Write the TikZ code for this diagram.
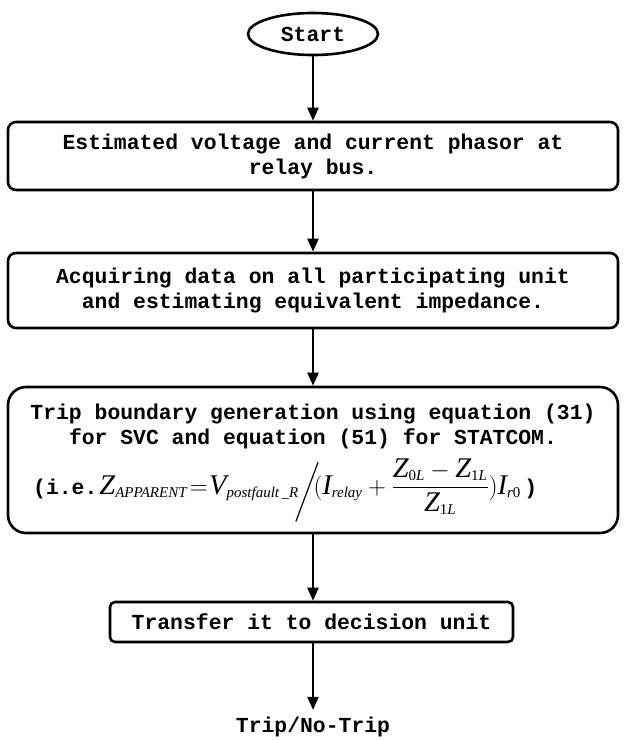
\documentclass[tikz,border=0pt]{standalone}
\usepackage{fontspec}
\usepackage{amsmath}
\newfontfamily\cour{Liberation Mono}
\newfontfamily\tms{Liberation Serif}
\usetikzlibrary{arrows.meta,shapes.geometric}
\newcommand{\ti}[1]{\text{\normalfont\tms\itshape #1}}
\newcommand{\sbi}[1]{\hbox{\normalfont\fontsize{15}{15}\selectfont\tms\itshape #1}}
\newcommand{\sbu}[1]{\hbox{\normalfont\fontsize{15}{15}\selectfont\tms #1}}
\newcommand{\bigslash}{\raisebox{-5pt}{$\displaystyle\left/\vphantom{\frac{Z}{Z}}\right.$}}
\begin{document}
\begin{tikzpicture}[x=1pt,y=-1pt,
  every node/.style={font=\cour\bfseries\fontsize{21.4}{25}\selectfont},
  box/.style={draw, line width=2.6pt, rounded corners=8pt, minimum width=610pt, inner sep=0pt},
  arr/.style={line width=2.4pt, -{Triangle[length=13pt,width=11pt]}}]
\useasboundingbox (0,0) rectangle (625,740);
\node[ellipse, draw, line width=2.6pt, minimum width=130pt, minimum height=42pt, inner sep=0pt] (start) at (313,34) {Start};
\node[box, minimum height=68pt, align=center] (b1) at (313,156) {Estimated voltage and current phasor at\\relay bus.};
\node[box, minimum height=75pt, align=center] (b2) at (313,290.5) {Acquiring data on all participating unit\\and estimating equivalent impedance.};
\node[box, rounded corners=18pt, minimum height=146pt] (b3) at (313,460) {};
\node[inner sep=0pt] (t31) at (313,414) {Trip boundary generation using equation (31)};
\node[inner sep=0pt] (t32) at (313,439) {for SVC and equation (51) for STATCOM.};
\node[anchor=base west, inner sep=0pt] (t33) at (33,494) {(i.e.\hspace{2pt}{\fontsize{28.5}{30}\selectfont$\displaystyle \ti{Z}_{\sbi{APPARENT}} \mathrel{\mkern-3mu=\mkern-4mu} \ti{V}_{\sbi{postfault\,\_R}}\!\bigslash\!\!(\ti{I}_{\sbi{relay}} + \frac{\ti{Z}_{\sbu{0}\sbi{L}} - \ti{Z}_{\sbu{1}\sbi{L}}}{\ti{Z}_{\sbu{1}\sbi{L}}})\ti{I}_{\sbi{r}\sbu{0}}$}\,)};
\node[box, rounded corners=5pt, minimum width=403pt, minimum height=40pt] (b4) at (311.5,622) {Transfer it to decision unit};
\node[inner sep=7pt] (trip) at (313,727) {Trip/No-Trip};
\draw[arr] (start.south) -- (b1.north -| start.south);
\draw[arr] (b1.south -| start.south) -- (b2.north -| start.south);
\draw[arr] (b2.south -| start.south) -- (b3.north -| start.south);
\draw[arr] (b3.south -| start.south) -- (b4.north -| start.south);
\draw[arr] (b4.south -| start.south) -- (trip.north -| start.south);
\end{tikzpicture}
\end{document}
